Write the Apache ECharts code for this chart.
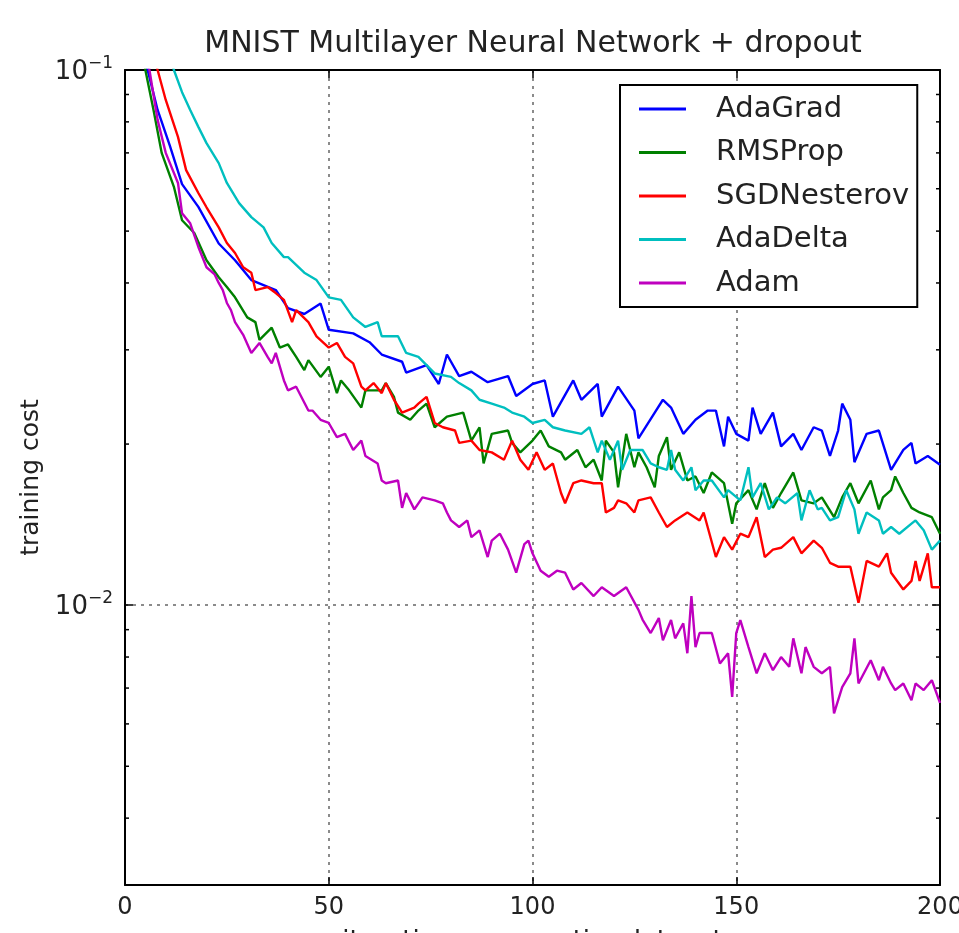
<!DOCTYPE html>
<html style="height: 100%">
<head>
    <meta charset="utf-8">
</head>
<body style="height: 100%; margin: 0; background: #fff">
<div id="container" style="width:959px;height:933px"></div>
<script type="text/javascript" src="https://cdn.jsdelivr.net/npm/echarts@6/dist/echarts.min.js"></script>

<script type="text/javascript">

    // [epoch, training cost]
    var adaGrad = [[2,0.135],[5,0.104],[8,0.0842],[11,0.0722],[14,0.0612],[18,0.0555],[23,0.0474],[27,0.0441],[31,0.0405],[37,0.0388],[40,0.0359],[44,0.0350],[48,0.0366],[50,0.0327],[56,0.0322],[60,0.0310],[63,0.0294],[68,0.0285],[69,0.0272],[74,0.0281],[77,0.0259],[79,0.0294],[82,0.0268],[85,0.0273],[89,0.0261],[94,0.0268],[96,0.0246],[100,0.0259],[103,0.0263],[105,0.0225],[110,0.0263],[112,0.0242],[116,0.0259],[117,0.0225],[121,0.0256],[125,0.0231],[126,0.0205],[130,0.0229],[132,0.0242],[134,0.0234],[137,0.0209],[140,0.0222],[143,0.0231],[145,0.0231],[147,0.0198],[148,0.0225],[150,0.0209],[153,0.0203],[154,0.0234],[156,0.0209],[159,0.0229],[161,0.0198],[164,0.0209],[166,0.0195],[169,0.0215],[171,0.0212],[173,0.0190],[175,0.0212],[176,0.0238],[178,0.0222],[179,0.0185],[182,0.0209],[185,0.0212],[188,0.0179],[191,0.0195],[193,0.0201],[194,0.0184],[197,0.0190],[200,0.0183]];

    var rmsProp = [[2,0.16],[5,0.100],[7,0.0842],[9,0.0700],[12,0.0605],[14,0.0524],[17,0.0496],[20,0.0441],[23,0.0410],[25,0.0393],[27,0.0376],[30,0.0345],[32,0.0338],[33,0.0313],[36,0.0330],[38,0.0303],[40,0.0307],[42,0.0291],[44,0.0275],[45,0.0287],[48,0.0267],[50,0.0279],[52,0.0249],[53,0.0263],[55,0.0252],[58,0.0234],[59,0.0252],[63,0.0252],[64,0.0260],[66,0.0245],[67,0.0229],[70,0.0222],[72,0.0231],[74,0.0238],[76,0.0215],[79,0.0225],[83,0.0229],[85,0.0203],[87,0.0215],[88,0.0184],[90,0.0209],[94,0.0212],[95,0.0201],[97,0.0193],[100,0.0203],[102,0.0212],[104,0.0198],[107,0.0193],[108,0.0187],[111,0.0195],[113,0.0181],[115,0.0187],[117,0.0171],[118,0.0203],[120,0.0193],[121,0.0166],[123,0.0209],[125,0.0181],[126,0.0193],[128,0.0181],[130,0.0166],[131,0.0190],[133,0.0206],[134,0.0179],[136,0.0193],[138,0.0171],[140,0.0174],[142,0.0162],[144,0.0177],[147,0.0169],[149,0.0142],[150,0.0155],[153,0.0164],[155,0.0151],[157,0.0169],[159,0.0152],[161,0.0162],[164,0.0177],[166,0.0157],[169,0.0155],[171,0.0159],[174,0.0146],[176,0.0159],[178,0.0169],[180,0.0155],[183,0.0171],[185,0.0151],[186,0.0159],[188,0.0164],[189,0.0174],[191,0.0162],[193,0.0152],[195,0.0149],[198,0.0146],[200,0.0136]];

    var sgdNesterov = [[3,0.145],[8,0.100],[10,0.0879],[13,0.0750],[15,0.0650],[18,0.0589],[20,0.0554],[23,0.0508],[25,0.0475],[27,0.0455],[29,0.0428],[31,0.0418],[32,0.0388],[35,0.0393],[37,0.0383],[39,0.0372],[41,0.0338],[42,0.0356],[45,0.0338],[47,0.0318],[50,0.0303],[52,0.0309],[54,0.0291],[56,0.0283],[58,0.0256],[59,0.0252],[61,0.0260],[63,0.0249],[64,0.0260],[66,0.0242],[68,0.0229],[71,0.0234],[72,0.0238],[74,0.0245],[76,0.0219],[78,0.0215],[81,0.0212],[82,0.0201],[85,0.0203],[87,0.0195],[90,0.0193],[93,0.0187],[95,0.0203],[97,0.0187],[99,0.0179],[101,0.0193],[103,0.0179],[105,0.0184],[107,0.0162],[108,0.0155],[110,0.0169],[112,0.0171],[115,0.0169],[117,0.0169],[118,0.0149],[120,0.0152],[121,0.0157],[123,0.0155],[125,0.0149],[126,0.0157],[129,0.0159],[131,0.0149],[133,0.0140],[135,0.0144],[138,0.0149],[141,0.0144],[142,0.0149],[145,0.0123],[147,0.0134],[149,0.0127],[151,0.0136],[153,0.0134],[155,0.0146],[157,0.0123],[159,0.0127],[161,0.0128],[164,0.0134],[166,0.0125],[169,0.0132],[171,0.0128],[173,0.0120],[175,0.0118],[178,0.0118],[180,0.0101],[182,0.0121],[185,0.0118],[187,0.0125],[188,0.0115],[191,0.0107],[193,0.0111],[194,0.0121],[195,0.0111],[197,0.0125],[198,0.0108],[200,0.0108]];

    var adaDelta = [[4,0.16],[12,0.100],[14,0.0909],[16,0.0842],[18,0.0783],[20,0.0730],[23,0.0670],[25,0.0615],[28,0.0564],[31,0.0531],[34,0.0508],[36,0.0475],[39,0.0447],[40,0.0447],[44,0.0418],[47,0.0405],[50,0.0376],[53,0.0372],[56,0.0345],[59,0.0331],[62,0.0338],[63,0.0318],[67,0.0318],[69,0.0296],[72,0.0291],[76,0.0271],[80,0.0267],[82,0.0260],[85,0.0252],[87,0.0242],[90,0.0238],[93,0.0234],[95,0.0229],[98,0.0225],[100,0.0219],[103,0.0222],[105,0.0215],[108,0.0212],[112,0.0209],[114,0.0215],[116,0.0193],[117,0.0203],[119,0.0187],[121,0.0203],[122,0.0179],[124,0.0195],[127,0.0195],[129,0.0184],[131,0.0181],[133,0.0179],[134,0.0195],[135,0.0179],[137,0.0171],[139,0.0181],[140,0.0164],[142,0.0171],[144,0.0171],[147,0.0159],[148,0.0164],[151,0.0157],[153,0.0181],[154,0.0159],[156,0.0169],[158,0.0151],[160,0.0159],[162,0.0155],[165,0.0162],[166,0.0144],[168,0.0164],[170,0.0151],[171,0.0152],[173,0.0144],[175,0.0146],[177,0.0164],[179,0.0151],[180,0.0136],[182,0.0149],[185,0.0144],[186,0.0136],[188,0.0140],[190,0.0136],[193,0.0142],[194,0.0144],[196,0.0138],[198,0.0127],[200,0.0132]];

    var adam = [[2,0.17],[6,0.100],[8,0.0807],[10,0.0700],[13,0.0615],[14,0.0540],[16,0.0517],[18,0.0467],[20,0.0428],[22,0.0415],[23,0.0400],[24,0.0388],[25,0.0367],[26,0.0356],[27,0.0338],[29,0.0320],[31,0.0296],[33,0.0309],[35,0.0291],[36,0.0283],[37,0.0296],[39,0.0263],[40,0.0252],[42,0.0256],[45,0.0231],[46,0.0231],[48,0.0222],[50,0.0219],[52,0.0206],[54,0.0209],[56,0.0195],[58,0.0203],[59,0.0190],[62,0.0184],[63,0.0171],[64,0.0169],[67,0.0171],[68,0.0152],[69,0.0162],[71,0.0151],[73,0.0159],[76,0.0157],[78,0.0155],[79,0.0149],[80,0.0144],[82,0.0140],[84,0.0144],[85,0.0134],[87,0.0138],[89,0.0123],[90,0.0132],[92,0.0136],[94,0.0127],[96,0.0115],[98,0.0130],[99,0.0132],[100,0.0125],[102,0.0116],[104,0.0113],[106,0.0116],[108,0.0115],[110,0.0107],[112,0.0110],[115,0.0104],[117,0.0108],[120,0.0104],[123,0.0108],[126,0.0098],[127,0.0094],[129,0.00887],[131,0.00946],[132,0.0086],[134,0.00938],[135,0.00867],[137,0.00925],[138,0.00813],[139,0.0104],[140,0.00835],[141,0.00887],[144,0.00887],[146,0.00778],[148,0.00813],[149,0.00674],[150,0.00887],[151,0.00938],[153,0.00835],[155,0.00746],[157,0.00813],[159,0.00756],[161,0.0080],[163,0.00767],[164,0.00867],[166,0.00746],[167,0.00835],[169,0.00767],[171,0.00746],[173,0.00767],[174,0.00628],[176,0.00703],[178,0.00746],[179,0.00867],[180,0.00714],[183,0.00789],[185,0.00724],[186,0.00767],[188,0.00714],[189,0.00694],[191,0.00714],[193,0.00664],[194,0.00714],[196,0.00694],[198,0.00724],[200,0.00657]];

    var seriesNames = ['AdaGrad', 'RMSProp', 'SGDNesterov', 'AdaDelta', 'Adam'];
    var xRange = [0, 200];
    var xStep = 50;
    var yRange = [0.003, 0.1];
    // minor ticks of the log axis (2..9 x 10^n)
    var minorTickValues = [0.004, 0.005, 0.006, 0.007, 0.008, 0.009, 0.02, 0.03, 0.04, 0.05, 0.06, 0.07, 0.08, 0.09];

    f1();
    function f1() {
        var dom = document.getElementById("container");
        var myChart = echarts.init(dom);
        var font = 'DejaVu Sans';

        function lineSeries(name, data, color) {
            return {
                name: name,
                type: 'line',
                data: data,
                symbol: 'none',
                showSymbol: false,
                clip: true,
                lineStyle: {color: color, width: 2.4},
                itemStyle: {color: color},
                z: 3
            };
        }

        function powLabel(v) {
            var l = Math.log(v) / Math.LN10;
            var e = Math.round(l);
            if (Math.abs(l - e) > 1e-6) return '';
            return '{b|10}{s|' + (e < 0 ? '\u2212' : '') + Math.abs(e) + '}';
        }

        var tickStyle = {show: true, inside: true, length: 8, lineStyle: {color: '#000', width: 1.5}};
        var spine = {show: true, onZero: false, lineStyle: {color: '#000', width: 2}};
        var grid = {show: true, showMinLine: false, showMaxLine: false, lineStyle: {color: '#666', width: 1.5, type: [3, 5]}};

        option = {
            animation: false,
            backgroundColor: '#fff',
            title: {
                text: 'MNIST Multilayer Neural Network + dropout',
                left: 533,
                top: 29,
                textAlign: 'center',
                padding: 0,
                textStyle: {fontFamily: font, fontSize: 30, fontWeight: 'normal', color: '#222'}
            },
            legend: {
                data: seriesNames,
                orient: 'vertical',
                left: 620,
                top: 85,
                icon: 'rect',
                itemWidth: 47,
                itemHeight: 3,
                itemGap: 13.5,
                padding: [9, 8, 9, 19],
                borderColor: '#000',
                borderWidth: 2,
                borderRadius: 0,
                backgroundColor: '#fff',
                textStyle: {fontFamily: font, fontSize: 29, lineHeight: 30, color: '#222', padding: [0, 0, 0, 25]}
            },
            grid: {
                left: 125, right: 19, top: 70, bottom: 48,
                outerBoundsMode: 'none',
                containLabel: false
            },
            xAxis: [{
                type: 'value',
                min: xRange[0], max: xRange[1], interval: xStep,
                name: 'iterations over entire dataset',
                nameLocation: 'middle',
                nameGap: 44,
                nameTextStyle: {fontFamily: font, fontSize: 26, color: '#222'},
                axisLine: spine,
                axisTick: tickStyle,
                axisLabel: {fontFamily: font, fontSize: 24, color: '#222', margin: 11},
                splitLine: grid
            }, {
                type: 'value', position: 'top',
                min: xRange[0], max: xRange[1], interval: xStep,
                axisLine: spine,
                axisTick: tickStyle,
                axisLabel: {show: false},
                splitLine: {show: false}
            }],
            yAxis: [{
                type: 'log', logBase: 10,
                min: yRange[0], max: yRange[1],
                name: 'training cost',
                nameLocation: 'middle',
                nameGap: 64,
                nameTextStyle: {fontFamily: font, fontSize: 25, color: '#222'},
                axisLine: spine,
                axisTick: tickStyle,
                axisLabel: {
                    margin: 12,
                    formatter: powLabel,
                    rich: {
                        b: {fontFamily: font, fontSize: 26, color: '#222', lineHeight: 30, verticalAlign: 'bottom'},
                        s: {fontFamily: font, fontSize: 17, color: '#222', lineHeight: 18, verticalAlign: 'top'}
                    }
                },
                splitLine: grid
            }, {
                type: 'log', logBase: 10, position: 'right',
                min: yRange[0], max: yRange[1],
                axisLine: spine,
                axisTick: tickStyle,
                axisLabel: {show: false},
                splitLine: {show: false}
            }],
            series: [
                lineSeries('AdaGrad', adaGrad, '#0000ff'),
                lineSeries('RMSProp', rmsProp, '#008000'),
                lineSeries('SGDNesterov', sgdNesterov, '#ff0000'),
                lineSeries('AdaDelta', adaDelta, '#00bfbf'),
                lineSeries('Adam', adam, '#bf00bf'),
                {
                    type: 'custom',
                    silent: true,
                    z: 4,
                    data: minorTickValues.map(function (v) { return [xRange[0], v]; }),
                    encode: {x: 0, y: 1},
                    renderItem: function (params, api) {
                        var cs = params.coordSys;
                        var y = api.coord([xRange[0], api.value(1)])[1];
                        return {
                            type: 'group',
                            children: [
                                {type: 'line', shape: {x1: cs.x, y1: y, x2: cs.x + 4, y2: y}, style: {stroke: '#000', lineWidth: 1.5}},
                                {type: 'line', shape: {x1: cs.x + cs.width - 4, y1: y, x2: cs.x + cs.width, y2: y}, style: {stroke: '#000', lineWidth: 1.5}}
                            ]
                        };
                    }
                }
            ]
        };

        if (option && typeof option === "object") {
            myChart.setOption(option, true);
        }
    }

</script>

</body>
</html>
